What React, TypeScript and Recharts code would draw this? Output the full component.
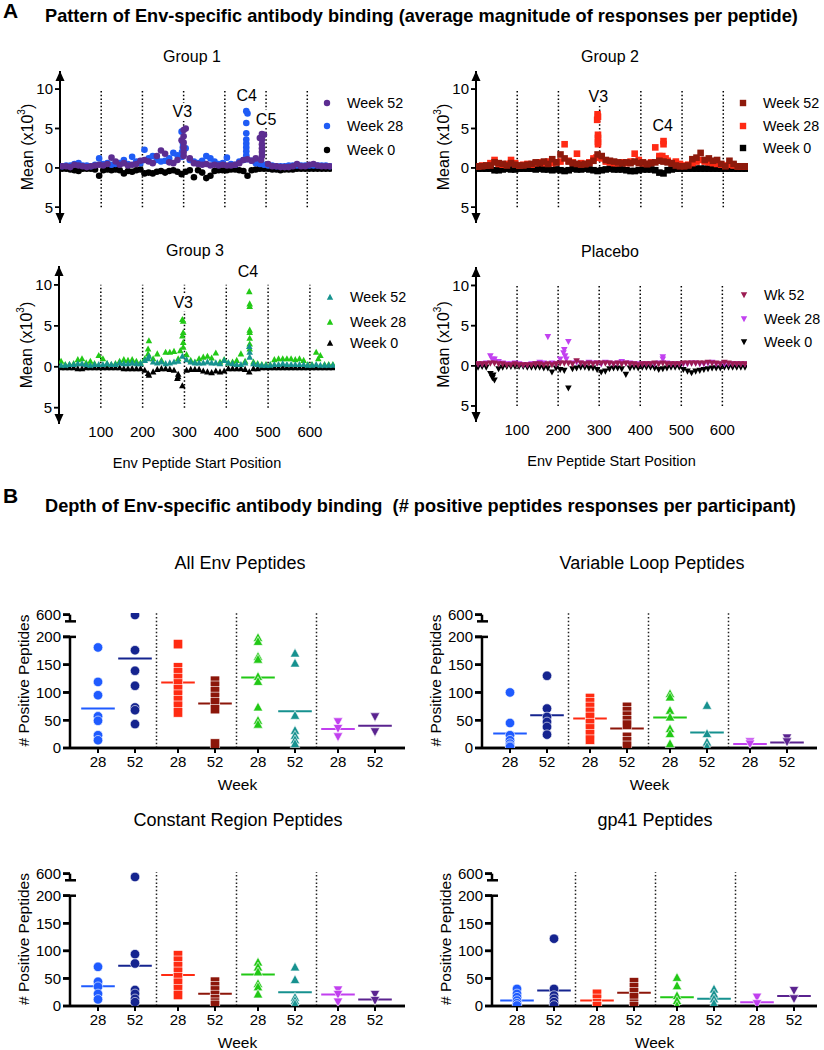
import React from 'react';
import { ScatterChart, Scatter, XAxis, YAxis, ReferenceLine, ReferenceDot } from 'recharts';

const FONT = '"Liberation Sans", Arial, Helvetica, sans-serif';

// ---------- Panel A: mean magnitude per peptide (x10^3) ----------
const POS = [5, 15, 25, 35, 45, 55, 65, 75, 85, 95,
  105, 115, 125, 135, 145, 155, 165, 175, 185, 195,
  205, 215, 225, 235, 245, 255, 265, 275, 285, 295,
  305, 315, 325, 335, 345, 355, 365, 375, 385, 395,
  405, 415, 425, 435, 445, 455, 465, 475, 485, 495,
  505, 515, 525, 535, 545, 555, 565, 575, 585, 595,
  605, 615, 625, 635, 645, 655];

const DIVIDERS = [100, 200, 300, 400, 500, 600];
const A_TICKS = [-5, 0, 5, 10];

const G1_W52 = [0.2, 0.2, 0.1, 0.4, 0.3, 0.2, 0.1, 0.2, 0.3, 0.4,
  0.3, 0.5, 1.3, 0.8, 0.4, 0.6, 0.3, 0.4, 0.5, 0.9,
  1.0, 0.8, 0.6, 1.5, 2.2, 1.8, 0.7, 0.6, 1.0, 3.5,
  5.0, 1.2, 0.6, 0.5, 0.4, 0.5, 0.3, 0.4, 0.3, 0.4,
  0.3, 0.3, 0.4, 0.6, 1.0, 1.1, 0.9, 1.2, 3.8, 4.2,
  0.5, 0.2, 0.2, 0.1, 0.1, 0.1, 0.2, 0.5, 0.2, 0.2,
  0.4, 0.5, 0.3, 0.2, 0.2, 0.2];
const G1_W52_EXTRA = [[300, 4.8], [300, 4.0], [300, 3.2], [300, 2.6], [300, 2.0], [300, 1.5],
  [490, 4.3], [490, 3.6], [490, 3.0], [490, 2.5], [490, 2.0], [490, 1.5], [488, 1.0]];
const G1_W28 = [0.2, 0.3, 0.3, 0.5, 0.6, 0.3, 0.3, 0.2, 0.4, 1.2,
  0.5, 0.6, 0.4, 0.5, 0.6, 1.0, 0.5, 1.4, 0.8, 0.6,
  2.3, 1.2, 1.5, 1.0, 0.8, 0.9, 1.2, 1.9, 1.6, 4.6,
  2.5, 1.0, 0.8, 0.6, 0.9, 1.5, 1.2, 0.8, 0.5, 0.6,
  1.3, 0.5, 0.4, 0.8, 1.0, 6.9, 0.9, 0.6, 0.5, 0.4,
  0.3, 0.3, 0.2, 0.2, 0.2, 0.3, 0.3, 0.3, 0.3, 0.3,
  0.3, 0.3, 0.3, 0.3, 0.3, 0.2];
const G1_W28_EXTRA = [[298, 3.2], [298, 2.6], [296, 2.0], [296, 1.4],
  [452, 7.2], [452, 5.7], [452, 4.4], [452, 3.6], [452, 3.1], [452, 2.6], [452, 2.1], [452, 1.6], [452, 1.1]];
const G1_W0 = [0.1, 0.1, 0.2, 0.3, 0.4, 0.1, 0.1, 0.1, 0.2, 1.0,
  0.3, 0.2, 0.3, 0.2, 0.3, 0.7, 0.4, 0.5, 0.3, 0.2,
  0.7, 0.6, 0.7, 0.5, 0.4, 0.6, 0.4, 0.3, 0.5, 0.8,
  0.5, 0.3, 1.2, 0.3, 0.6, 1.3, 1.0, 0.4, 0.3, 0.3,
  0.3, 0.2, 0.2, 0.3, 0.4, 1.0, 0.3, 0.2, 0.1, 0.1,
  0.1, 0.2, 0.2, 0.3, 0.2, 0.2, 0.2, 0.1, 0.1, 0.1,
  0.1, 0.1, 0.1, 0.1, 0.1, 0.1];

const G2_W52 = [0.2, 0.2, 0.3, 0.3, 0.7, 0.6, 0.5, 0.3, 0.6, 0.4,
  0.3, 0.3, 0.4, 0.5, 0.7, 0.6, 0.8, 0.5, 1.1, 0.7,
  1.7, 1.2, 0.8, 0.6, 0.5, 0.4, 0.5, 0.6, 0.9, 1.7,
  1.5, 1.0, 0.9, 0.8, 0.7, 0.6, 0.7, 0.6, 0.8, 0.6,
  0.7, 0.5, 0.6, 0.7, 0.9, 0.8, 0.7, 0.6, 0.3, 0.2,
  0.2, 0.3, 1.1, 1.3, 1.9, 1.0, 1.2, 0.9, 1.0, 0.5,
  0.2, 0.9, 0.5, 0.2, 0.2, 0.2];
const G2_W28 = [0.2, 0.3, 0.3, 0.6, 1.0, 0.5, 0.4, 0.5, 1.0, 0.6,
  0.3, 0.4, 0.5, 0.4, 0.6, 0.7, 0.6, 0.8, 0.6, 0.7,
  0.8, 3.0, 0.9, 0.7, 1.8, 0.6, 0.5, 0.7, 1.2, 6.8,
  1.2, 0.8, 0.7, 0.6, 0.6, 0.7, 0.6, 0.8, 1.8, 1.0,
  0.6, 0.5, 0.7, 2.6, 1.5, 3.4, 0.9, 0.6, 0.8, 0.5,
  0.3, 0.4, 0.6, 0.8, 1.0, 0.8, 0.7, 0.6, 0.5, 0.4,
  0.3, 0.4, 0.3, 0.2, 0.2, 0.2];
const G2_W28_EXTRA = [[296, 6.5], [294, 6.1], [296, 4.2], [296, 3.8], [296, 3.3], [296, 3.0], [292, 1.3],
  [455, 3.0], [452, 1.5], [445, 1.3], [460, 1.2]];
const G2_W0 = [0.1, 0.1, 0.1, 0.1, 0.3, 0.3, 0.2, 0.1, 0.2, 0.2,
  0.1, 0.1, 0.1, 0.1, 0.2, 0.1, 0.2, 0.2, 0.3, 0.2,
  0.3, 0.4, 0.3, 0.1, 0.2, 0.2, 0.1, 0.2, 0.3, 0.4,
  0.3, 0.2, 0.1, 0.2, 0.2, 0.2, 0.3, 0.4, 0.4, 0.3,
  0.2, 0.2, 0.2, 0.3, 0.6, 0.7, 0.3, 0.2, 0.1, 0.1,
  0.1, 0.1, 0.1, 0.1, 0.1, 0.1, 0.1, 0.1, 0.1, 0.1,
  0.1, 0.1, 0.1, 0.1, 0.1, 0.1];

const G3_W52 = [0.2, 0.2, 0.3, 0.3, 0.4, 0.4, 0.3, 0.2, 0.3, 0.3,
  0.3, 0.4, 0.3, 0.3, 0.5, 0.4, 0.4, 0.5, 0.4, 0.4,
  0.8, 1.3, 0.6, 0.5, 0.6, 0.4, 0.5, 0.6, 0.7, 1.3,
  0.9, 0.6, 0.5, 0.5, 0.5, 0.6, 0.5, 0.5, 0.4, 0.8,
  0.5, 0.4, 0.3, 0.3, 0.5, 2.5, 0.4, 0.3, 0.2, 0.2,
  0.2, 0.3, 0.3, 0.4, 0.3, 0.3, 0.3, 0.3, 0.3, 0.2,
  0.2, 0.3, 0.2, 0.2, 0.2, 0.2];
const G3_W52_EXTRA = [[456, 1.8], [456, 1.2], [213, 1.0]];
const G3_W28 = [0.7, 0.3, 0.3, 0.4, 0.9, 1.0, 0.5, 0.7, 0.4, 1.4,
  1.0, 0.4, 0.3, 0.4, 0.7, 0.9, 0.8, 0.9, 0.7, 0.5,
  1.0, 3.2, 1.0, 1.6, 0.8, 1.8, 1.8, 1.9, 1.0, 5.8,
  1.5, 0.8, 0.6, 1.0, 1.2, 1.3, 1.1, 1.7, 0.6, 0.9,
  0.5, 0.6, 0.8, 1.6, 0.7, 9.2, 0.6, 0.4, 0.3, 0.3,
  0.3, 0.9, 1.0, 1.0, 1.0, 1.0, 0.9, 1.0, 0.8, 0.3,
  0.3, 1.8, 1.4, 0.3, 0.3, 0.3];
const G3_W28_EXTRA = [[297, 5.6], [297, 4.2], [295, 3.8], [297, 3.0], [297, 2.4], [290, 2.0],
  [213, 2.2], [213, 1.6], [456, 7.7], [456, 7.4], [456, 4.5], [456, 4.2], [456, 3.5], [456, 2.8],
  [456, 2.2], [620, 1.0]];
const G3_W0 = [0.1, 0.1, 0.1, 0.1, 0.2, 0.2, 0.1, 0.1, 0.1, 0.1,
  0.1, 0.1, 0.1, 0.1, 0.1, 0.2, 0.2, 0.2, 0.2, 0.2,
  0.4, 1.0, 0.6, 0.3, 0.2, 0.2, 0.3, 0.4, 1.2, 2.3,
  0.4, 0.3, 0.3, 0.3, 0.5, 0.6, 0.7, 0.5, 0.6, 0.5,
  0.2, 0.2, 0.2, 0.2, 0.3, 0.6, 0.2, 0.2, 0.1, 0.1,
  0.1, 0.1, 0.1, 0.1, 0.1, 0.1, 0.1, 0.1, 0.1, 0.1,
  0.1, 0.1, 0.1, 0.1, 0.1, 0.1];
const G3_W0_EXTRA = [[213, 0.8], [285, 0.9], [283, 1.4]];

const PL_W52 = [0.2, 0.2, 0.2, 0.3, 0.3, 0.2, 0.2, 0.1, 0.1, 0.2,
  0.1, 0.1, 0.1, 0.1, 0.2, 0.2, 0.1, 0.2, 0.1, 0.2,
  0.3, 0.3, 0.3, 0.2, 0.6, 0.3, 0.2, 0.3, 0.2, 0.3,
  0.3, 0.3, 0.3, 0.2, 0.3, 0.2, 0.3, 0.2, 0.2, 0.1,
  0.2, 0.2, 0.2, 0.3, 0.2, 0.3, 0.2, 0.2, 0.2, 0.2,
  0.3, 0.3, 0.3, 0.3, 0.3, 0.3, 0.4, 0.3, 0.3, 0.2,
  0.4, 0.3, 0.2, 0.2, 0.2, 0.2];
const PL_W28 = [0.2, 0.2, 0.3, 1.2, 0.8, 0.5, 0.3, 0.2, 0.2, 0.3,
  0.2, 0.1, 0.1, 0.2, 0.2, 0.4, 0.3, 3.6, 0.3, 0.2,
  0.8, 2.0, 3.0, 0.3, 0.4, 0.3, 0.2, 0.4, 0.3, 0.3,
  0.2, 0.4, 0.3, 0.2, 0.3, 0.5, 0.3, 0.3, 0.2, 0.2,
  0.2, 0.2, 0.2, 0.2, 0.3, 1.1, 0.3, 0.2, 0.2, 0.2,
  0.2, 0.2, 0.3, 0.3, 0.2, 0.2, 0.3, 0.4, 0.2, 0.2,
  0.2, 0.2, 0.2, 0.2, 0.2, 0.2];
const PL_W28_EXTRA = [[40, 0.8], [42, 0.6], [213, 1.6], [217, 1.2], [220, 0.8], [455, 0.8]];
const PL_W0 = [0.2, 0.1, 0.2, 1.0, 1.8, 0.4, 0.2, 0.1, 0.1, 0.1,
  0.1, 0.1, 0.2, 0.2, 0.2, 0.2, 0.3, 0.3, 0.8, 0.3,
  0.5, 0.6, 2.8, 0.4, 0.3, 0.2, 0.2, 0.3, 0.3, 0.5,
  0.8, 0.7, 0.4, 0.3, 0.3, 0.4, 1.1, 0.3, 0.2, 0.3,
  0.2, 0.2, 0.2, 0.3, 0.5, 0.4, 0.3, 0.2, 0.2, 0.2,
  0.5, 0.7, 0.9, 0.7, 0.6, 0.5, 0.4, 0.3, 0.3, 0.3,
  0.2, 0.2, 0.2, 0.2, 0.2, 0.2];
const PL_W0_EXTRA = [[40, 1.5], [42, 1.2]];

// ---------- Panel B: # positive peptides per participant ----------
const COLS = [0, 0.925, 2, 2.925, 4, 4.925, 6, 6.925];
const WEEKS = ['28', '52', '28', '52', '28', '52', '28', '52'];
const GROUP_CENTERS = [0.4625, 2.4625, 4.4625, 6.4625];
const GROUPS = ['G1', 'G2', 'G3', 'Placebo'];
const SEPS = [1.4625, 3.4625, 5.4625];
const Y_TICKS = [0, 50, 100, 150, 200, 240];
const B_COLORS = ['#1F5BFF', '#15248F', '#FF2B12', '#8C160A', '#21C815', '#16918F', '#C13FEF', '#5A238F'];
const B_KINDS: Kind[] = ['circle', 'circle', 'square', 'square', 'up', 'up', 'down', 'down'];

const ALL_ENV = [
  [181, 119, 95, 57, 49, 23, 14],
  [590, 176, 139, 112, 73, 68, 43],
  [187, 145, 136, 126, 116, 106, 96, 86, 76, 64],
  [121, 112, 102, 92, 82, 70, 8],
  [199, 192, 165, 160, 129, 120, 74, 50, 43],
  [171, 153, 59, 32, 23, 15, 8],
  [47, 35, 20],
  [56, 29],
];
const ALL_ENV_MEANS = [71, 161, 118, 80, 127, 66, 34, 40];

const VAR_LOOP = [
  [100, 45, 23, 14, 8, 4, 2],
  [130, 71, 56, 47, 38, 24],
  [90, 82, 74, 65, 56, 45, 35, 25, 15],
  [74, 66, 58, 50, 42, 20, 12, 4],
  [98, 92, 68, 56, 35, 26, 8],
  [77, 26, 11, 3],
  [11, 7],
  [18, 11],
];
const VAR_LOOP_MEANS = [26, 59, 53, 35, 55, 28, 7, 10];

const CONSTANT = [
  [71, 44, 35, 22, 12],
  [500, 94, 77, 29, 22, 13, 7],
  [92, 82, 72, 62, 52, 42, 30, 20],
  [44, 36, 28, 20, 12, 6, 2],
  [80, 71, 62, 41, 35, 22],
  [71, 48, 16, 10, 4],
  [29, 21, 7],
  [21, 10],
];
const CONSTANT_MEANS = [36, 73, 56, 22, 57, 25, 21, 12];

const GP41 = [
  [31, 22, 16, 10, 5, 1],
  [122, 31, 19, 13, 7, 1],
  [22, 13, 5, 0],
  [43, 34, 25, 16, 4, 0],
  [52, 37, 19, 10, 1],
  [31, 22, 13, 5],
  [16, 4],
  [28, 13],
];
const GP41_MEANS = [10, 28, 10, 24, 16, 13, 7, 18];

// broken y axis: 0-200 linear, 400-600 squeezed on top
const BREAK_LOW = 228;
const toDisplay = (v: number) => (v <= 200 ? v : BREAK_LOW + ((v - 400) * 12) / 200);

type Kind = 'circle' | 'square' | 'up' | 'down';

function marker(kind: Kind, size: number, fill: string, stroke = 'none') {
  return (p: any) => {
    const { cx, cy } = p;
    if (cx == null || cy == null) return <g />;
    const h = size / 2;
    if (kind === 'circle') return <circle cx={cx} cy={cy} r={h} fill={fill} stroke={stroke} strokeWidth={0.6} />;
    if (kind === 'square') return <rect x={cx - h} y={cy - h} width={size} height={size} fill={fill} stroke={stroke} strokeWidth={0.6} />;
    if (kind === 'up') return <polygon points={`${cx - h},${cy + h * 0.85} ${cx + h},${cy + h * 0.85} ${cx},${cy - h}`} fill={fill} stroke={stroke} strokeWidth={0.6} />;
    return <polygon points={`${cx - h},${cy - h * 0.85} ${cx + h},${cy - h * 0.85} ${cx},${cy + h}`} fill={fill} stroke={stroke} strokeWidth={0.6} />;
  };
}

const build = (vals: number[], extra: number[][], sign = 1) =>
  POS.map((x, i) => ({ x, y: sign * vals[i] })).concat(extra.map(([x, v]) => ({ x, y: sign * v })));

const Txt = ({ x, y, size, bold, left, children }: any) => (
  <div style={{
    position: 'absolute', left: x, top: y, transform: left ? 'translate(0,-50%)' : 'translate(-50%,-50%)',
    fontSize: size, fontWeight: bold ? 700 : 400, whiteSpace: 'nowrap', lineHeight: 1,
  }}>{children}</div>
);

const noteShape = (text: string) => (q: any) => (
  <g>
    <rect x={q.cx - 11} y={q.cy - 9} width={22} height={18} fill="#fff" />
    <text x={q.cx} y={q.cy} textAnchor="middle" dominantBaseline="central" fontSize={16} fontFamily={FONT} fill="#000">{text}</text>
  </g>
);

// dir 1: arrow pointing up (top end), -1: pointing down (bottom end)
const arrow = (dir: number) => (q: any) => (
  <polygon points={`${q.cx - 4.5},${q.cy + dir * 10} ${q.cx},${q.cy} ${q.cx + 4.5},${q.cy + dir * 10}`} fill="#000" />
);

const rotLabel = (offset: number, kind: 'mean' | 'count') => ({
  content: (p: any) => {
    const vb = p.viewBox;
    const x = vb.x + vb.width - offset;
    const y = vb.y + vb.height / 2;
    return (
      <text x={x} y={y} transform={`rotate(-90 ${x} ${y})`} textAnchor="middle" dominantBaseline="central"
        fontSize={kind === 'mean' ? 16 : 15.5} fontFamily={FONT} fill="#000">
        {kind === 'mean' ? (<>Mean (x10<tspan dy={-6} fontSize={10}>3</tspan><tspan dy={6}>)</tspan></>) : '# Positive Peptides'}
      </text>
    );
  },
});

type APanel = {
  title: string; titleX: number; titleY: number;
  divLeft: number; plotLeft: number; plotTop: number; plotH: number; plotW: number; showX: boolean;
  kind: Kind; colors: string[]; series: { x: number; y: number }[][];
  legend: string[]; legendX: number; legendY: number[];
  notes: { x: number; y: number; t: string }[];
};

const A_PANELS: APanel[] = [
  {
    title: 'Group 1', titleX: 192, titleY: 57, divLeft: 0, plotLeft: 60, plotTop: 71, plotH: 152, plotW: 272, showX: false,
    kind: 'circle', colors: ['#000000', '#1F5CF5', '#5C2D91'],
    series: [build(G1_W0, [], -1), build(G1_W28, G1_W28_EXTRA), build(G1_W52, G1_W52_EXTRA)],
    legend: ['Week 52', 'Week 28', 'Week 0'], legendX: 327, legendY: [103, 126, 150],
    notes: [{ x: 297, y: 7.1, t: 'V3' }, { x: 453, y: 9.15, t: 'C4' }, { x: 500, y: 6.2, t: 'C5' }],
  },
  {
    title: 'Group 2', titleX: 610, titleY: 57, divLeft: 412, plotLeft: 476, plotTop: 71, plotH: 152, plotW: 272, showX: false,
    kind: 'square', colors: ['#000000', '#FF2A14', '#8E1A0C'],
    series: [build(G2_W0, [], -1), build(G2_W28, G2_W28_EXTRA), build(G2_W52, [])],
    legend: ['Week 52', 'Week 28', 'Week 0'], legendX: 743, legendY: [103, 126, 148],
    notes: [{ x: 297, y: 9.0, t: 'V3' }, { x: 453, y: 5.4, t: 'C4' }],
  },
  {
    title: 'Group 3', titleX: 195, titleY: 251, divLeft: 0, plotLeft: 59, plotTop: 266, plotH: 158, plotW: 276, showX: true,
    kind: 'up', colors: ['#000000', '#22C916', '#17938F'],
    series: [build(G3_W0, G3_W0_EXTRA, -1), build(G3_W28, G3_W28_EXTRA), build(G3_W52, G3_W52_EXTRA)],
    legend: ['Week 52', 'Week 28', 'Week 0'], legendX: 330, legendY: [297, 322, 343],
    notes: [{ x: 297, y: 7.85, t: 'V3' }, { x: 452, y: 11.6, t: 'C4' }],
  },
  {
    title: 'Placebo', titleX: 610, titleY: 252, divLeft: 412, plotLeft: 476, plotTop: 267, plotH: 155, plotW: 271, showX: true,
    kind: 'down', colors: ['#000000', '#C241F0', '#9C1C52'],
    series: [build(PL_W0, PL_W0_EXTRA, -1), build(PL_W28, PL_W28_EXTRA), build(PL_W52, [])],
    legend: ['Wk 52', 'Week 28', 'Week 0'], legendX: 744, legendY: [295, 319, 342],
    notes: [],
  },
];

function PeptidePanel({ p }: { p: APanel }) {
  const yW = 52;
  const xH = p.showX ? 48 : 0;
  const width = p.plotLeft - p.divLeft + p.plotW + 10;
  const height = 20 + p.plotH + xH;
  const legendColors = [p.colors[2], p.colors[1], p.colors[0]];
  const tickLen = (5 * 660) / p.plotW;
  return (
    <>
      <Txt x={p.titleX} y={p.titleY} size={16}>{p.title}</Txt>
      <div style={{ position: 'absolute', left: p.divLeft, top: p.plotTop - 20 }}>
        <ScatterChart width={width} height={height}
          margin={{ top: 20, right: 10, bottom: 0, left: p.plotLeft - p.divLeft - yW }}>
          <XAxis type="number" dataKey="x" domain={[0, 660]} allowDataOverflow hide={!p.showX}
            ticks={DIVIDERS} axisLine={false} tickLine={false} tickSize={0} tickMargin={2} height={48}
            tick={{ fontSize: 15, fill: '#000', fontFamily: FONT }}
            label={{ value: 'Env Peptide Start Position', position: 'insideBottom', offset: 4, fontSize: 14.5, fill: '#000', fontFamily: FONT }} />
          <YAxis type="number" dataKey="y" domain={[-7, 12.3]} allowDataOverflow ticks={A_TICKS}
            tickFormatter={(v: number) => String(Math.abs(v))} width={yW}
            axisLine={{ stroke: '#000', strokeWidth: 2 }} tickLine={{ stroke: '#000', strokeWidth: 1.5 }} tickSize={5}
            tick={{ fontSize: 15, fill: '#000', fontFamily: FONT }} label={rotLabel(33, 'mean')} />
          {DIVIDERS.map((d) => (
            <ReferenceLine key={d} segment={[{ x: d, y: -5 }, { x: d, y: 10 }]} stroke="#000" strokeWidth={1.5} strokeDasharray="1.5 2.2" />
          ))}
          <ReferenceLine segment={[{ x: 0, y: -7 }, { x: 0, y: 12.3 }]} stroke="#000" strokeWidth={2} ifOverflow="visible" />
          {A_TICKS.map((t) => (
            <ReferenceLine key={'t' + t} segment={[{ x: -tickLen, y: t }, { x: 0, y: t }]} stroke="#000" strokeWidth={1.5} ifOverflow="visible" />
          ))}
          {p.series.map((s, i) => (
            <Scatter key={i} data={s} fill={p.colors[i]} isAnimationActive={false} shape={marker(p.kind, 6.6, p.colors[i])} />
          ))}
          {p.notes.map((n) => (
            <ReferenceDot key={n.t} x={n.x} y={n.y} r={0} ifOverflow="visible" shape={noteShape(n.t)} />
          ))}
          <ReferenceDot x={0} y={12.3} ifOverflow="visible" shape={arrow(1)} />
          <ReferenceDot x={0} y={-7} ifOverflow="visible" shape={arrow(-1)} />
        </ScatterChart>
      </div>
      {p.legend.map((t, i) => (
        <React.Fragment key={t}>
          <svg style={{ position: 'absolute', left: p.legendX - 5, top: p.legendY[i] - 5 }} width={10} height={10}>
            {marker(p.kind, 6.4, legendColors[i])({ cx: 5, cy: 5 })}
          </svg>
          <Txt x={p.legendX + 20} y={p.legendY[i]} size={14.3} left>{t}</Txt>
        </React.Fragment>
      ))}
    </>
  );
}

type BPanel = {
  title: string; titleX: number; titleY: number; values: number[][]; means: number[];
  plotLeft: number; plotTop: number; plotBottom: number; xMin: number; xMax: number;
};

const B_PANELS: BPanel[] = [
  { title: 'All Env Peptides', titleX: 240, titleY: 563, values: ALL_ENV, means: ALL_ENV_MEANS, plotLeft: 70, plotTop: 613, plotBottom: 748, xMin: -0.7, xMax: 7.675 },
  { title: 'Variable Loop Peptides', titleX: 652, titleY: 563, values: VAR_LOOP, means: VAR_LOOP_MEANS, plotLeft: 482, plotTop: 613, plotBottom: 748, xMin: -0.7, xMax: 7.675 },
  { title: 'Constant Region Peptides', titleX: 238, titleY: 820, values: CONSTANT, means: CONSTANT_MEANS, plotLeft: 70, plotTop: 872, plotBottom: 1006, xMin: -0.7, xMax: 7.675 },
  { title: 'gp41 Peptides', titleX: 655, titleY: 820, values: GP41, means: GP41_MEANS, plotLeft: 492, plotTop: 872, plotBottom: 1006, xMin: -0.625, xMax: 7.5 },
];

function DepthPanel({ p }: { p: BPanel }) {
  const plotW = (p.xMax - p.xMin) * 40;
  const plotH = p.plotBottom - p.plotTop;
  const width = 75 + plotW;
  const height = 40 + plotH + 50;
  const tick = { fontSize: 15, fill: '#000', fontFamily: FONT };
  const ax = { stroke: '#000', strokeWidth: 2.5 };
  const pxY = 243 / plotH; // display units per pixel
  return (
    <>
      <Txt x={p.titleX} y={p.titleY} size={18}>{p.title}</Txt>
      <div style={{ position: 'absolute', left: p.plotLeft - 70, top: p.plotTop - 40 }}>
        <ScatterChart width={width} height={height} margin={{ top: 10, right: 5, bottom: 5, left: 10 }}>
          <XAxis xAxisId={0} type="number" dataKey="x" domain={[p.xMin, p.xMax]} allowDataOverflow ticks={COLS}
            tickFormatter={(_v: number, i: number) => WEEKS[i]} axisLine={ax} tickLine={{ stroke: '#000', strokeWidth: 2 }}
            tickSize={5} tickMargin={3} height={45} tick={tick}
            label={{ value: 'Week', position: 'insideBottom', offset: 3, fontSize: 15.5, fill: '#000', fontFamily: FONT }} />
          <XAxis xAxisId="top" orientation="top" type="number" domain={[p.xMin, p.xMax]} allowDataOverflow
            ticks={GROUP_CENTERS} tickFormatter={(_v: number, i: number) => GROUPS[i]} axisLine={false} tickLine={false}
            tickSize={0} tickMargin={13} height={30} tick={{ ...tick, fontSize: 15.5 }} />
          <YAxis type="number" dataKey="y" domain={[0, 243]} allowDataOverflow ticks={Y_TICKS}
            tickFormatter={(v: number) => (v === 240 ? '600' : String(v))} width={60} axisLine={false}
            tickLine={ax} tickSize={7} tick={tick} label={rotLabel(47, 'count')} />
          {SEPS.map((s) => (
            <ReferenceLine key={s} segment={[{ x: s, y: 0 }, { x: s, y: 243 }]} stroke="#222" strokeWidth={1.5} strokeDasharray="1.5 2.2" />
          ))}
          <ReferenceLine segment={[{ x: p.xMin, y: 0 }, { x: p.xMax, y: 0 }]} ifOverflow="visible" {...ax} />
          {COLS.map((c) => (
            <ReferenceLine key={'xt' + c} segment={[{ x: c, y: 0 }, { x: c, y: -5 * pxY }]} ifOverflow="visible" stroke="#000" strokeWidth={2} />
          ))}
          {Y_TICKS.map((t) => (
            <ReferenceLine key={'yt' + t} segment={[{ x: p.xMin - 0.175, y: t }, { x: p.xMin, y: t }]} ifOverflow="visible" {...ax} />
          ))}
          <ReferenceLine segment={[{ x: p.xMin, y: 0 }, { x: p.xMin, y: 200 }]} ifOverflow="visible" {...ax} />
          <ReferenceLine segment={[{ x: p.xMin - 0.175, y: 200 }, { x: p.xMin + 0.15, y: 200 }]} ifOverflow="visible" {...ax} />
          <ReferenceLine segment={[{ x: p.xMin, y: BREAK_LOW }, { x: p.xMin, y: 240 }]} ifOverflow="visible" {...ax} />
          <ReferenceLine segment={[{ x: p.xMin - 0.125, y: BREAK_LOW }, { x: p.xMin + 0.15, y: BREAK_LOW }]} ifOverflow="visible" {...ax} />
          {p.values.map((vals, i) => (
            <Scatter key={i} data={vals.map((v) => ({ x: COLS[i], y: toDisplay(v) }))} fill={B_COLORS[i]}
              isAnimationActive={false} shape={marker(B_KINDS[i], 9.5, B_COLORS[i], '#fff')} />
          ))}
          {p.means.map((m, i) => (
            <ReferenceLine key={'m' + i} segment={[{ x: COLS[i] - 0.42, y: m }, { x: COLS[i] + 0.42, y: m }]}
              stroke={B_COLORS[i]} strokeWidth={2} ifOverflow="visible" />
          ))}
        </ScatterChart>
      </div>
    </>
  );
}

export default function App() {
  return (
    <div style={{ position: 'absolute', left: 0, top: 0, width: 824, height: 1050, background: '#fff', fontFamily: FONT, color: '#000' }}>
      <Txt x={3} y={10} size={21} bold left>A</Txt>
      <Txt x={45} y={16} size={18.2} bold left>Pattern of Env-specific antibody binding (average magnitude of responses per peptide)</Txt>
      {A_PANELS.map((p) => <PeptidePanel key={p.title} p={p} />)}
      <Txt x={3} y={495} size={21} bold left>B</Txt>
      <Txt x={45} y={506} size={18.2} bold left>Depth of Env-specific antibody binding{'\u00a0'} (# positive peptides responses per participant)</Txt>
      {B_PANELS.map((p) => <DepthPanel key={p.title} p={p} />)}
    </div>
  );
}
